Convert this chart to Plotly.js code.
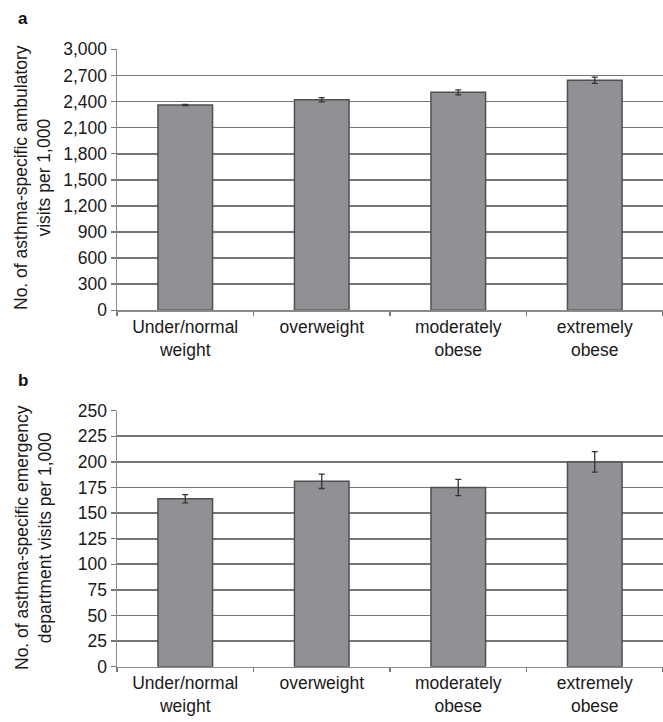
<!DOCTYPE html>
<html>
<head>
<meta charset="utf-8">
<script src="https://cdn.plot.ly/plotly-3.0.1.min.js"></script>
<style>html,body{margin:0;padding:0;background:#fff;}#chart{width:663px;height:722px;}</style>
</head>
<body>
<div id="chart"></div>
<script>
// Data
var categories = ["Under/normal<br>weight", "overweight", "moderately<br>obese", "extremely<br>obese"];
var ambulatoryVisits = [2360, 2420, 2505, 2645];
var ambulatoryErr = [8, 25, 28, 36];
var emergencyVisits = [164, 181, 175, 200];
var emergencyErr = [4, 7, 8, 10];
var ambulatoryTicks = [0, 300, 600, 900, 1200, 1500, 1800, 2100, 2400, 2700, 3000];
var emergencyTicks = [0, 25, 50, 75, 100, 125, 150, 175, 200, 225, 250];

var W = 663, H = 722;
var barFill = "#909195", barLine = "#505052", gridCol = "#757575", errCol = "#333333";
var font = {family: "Liberation Sans, Arial, sans-serif", size: 17.5, color: "#1a1a1a"};

function barTrace(y, err, xa, ya) {
  return {
    type: "bar", x: categories, y: y, xaxis: xa, yaxis: ya,
    marker: {color: barFill, line: {color: barLine, width: 1.5}},
    error_y: {type: "data", array: err, visible: true, color: errCol, thickness: 1.3, width: 3},
    hoverinfo: "none"
  };
}

var data = [
  barTrace(ambulatoryVisits, ambulatoryErr, "x", "y"),
  barTrace(emergencyVisits, emergencyErr, "x2", "y2")
];

function xAxis(anchor, domain) {
  return {
    anchor: anchor, domain: domain, type: "category", range: [-0.5, 3.5],
    showline: true, linecolor: "#8a8a8a", linewidth: 1.5,
    ticks: "outside", tickson: "boundaries", ticklen: 4, tickcolor: "#777", tickwidth: 1.5,
    showgrid: false, tickfont: font, fixedrange: true
  };
}
function yAxis(anchor, domain, rng, ticks) {
  return {
    anchor: anchor, domain: domain, range: rng, tickmode: "array", tickvals: ticks,
    tickformat: ",d", showline: true, linecolor: "#8a8a8a", linewidth: 1.5,
    ticks: "outside", ticklen: 5, tickcolor: "#777", tickwidth: 1.5,
    showgrid: true, gridcolor: gridCol, gridwidth: 1.6, zeroline: false,
    tickfont: font, fixedrange: true
  };
}

var xdom = [117 / W, 1];
var layout = {
  width: W, height: H, margin: {l: 0, r: 0, t: 0, b: 0},
  paper_bgcolor: "#fff", plot_bgcolor: "#fff", showlegend: false,
  bargap: 0.6, font: font,
  xaxis: xAxis("y", xdom),
  yaxis: yAxis("x", [(H - 310.3) / H, (H - 49.3) / H], [0, 3000], ambulatoryTicks),
  xaxis2: xAxis("y2", xdom),
  yaxis2: yAxis("x2", [(H - 666.7) / H, (H - 410.7) / H], [0, 250], emergencyTicks),
  annotations: [
    {text: "<b>a</b>", xref: "paper", yref: "paper", x: 16 / W, y: (H - 19) / H, xanchor: "left", yanchor: "middle", showarrow: false, font: {family: font.family, size: 17, color: "#111"}},
    {text: "<b>b</b>", xref: "paper", yref: "paper", x: 16 / W, y: (H - 380) / H, xanchor: "left", yanchor: "middle", showarrow: false, font: {family: font.family, size: 17, color: "#111"}},
    {text: "No. of asthma-specific ambulatory<br>visits per 1,000", textangle: -90, xref: "paper", yref: "paper", x: 33 / W, y: (H - 178) / H, xanchor: "center", yanchor: "middle", showarrow: false, font: font},
    {text: "No. of asthma-specific emergency<br>department visits per 1,000", textangle: -90, xref: "paper", yref: "paper", x: 33 / W, y: (H - 538) / H, xanchor: "center", yanchor: "middle", showarrow: false, font: font}
  ]
};

Plotly.newPlot("chart", data, layout, {displayModeBar: false, staticPlot: true});
</script>
</body>
</html>
